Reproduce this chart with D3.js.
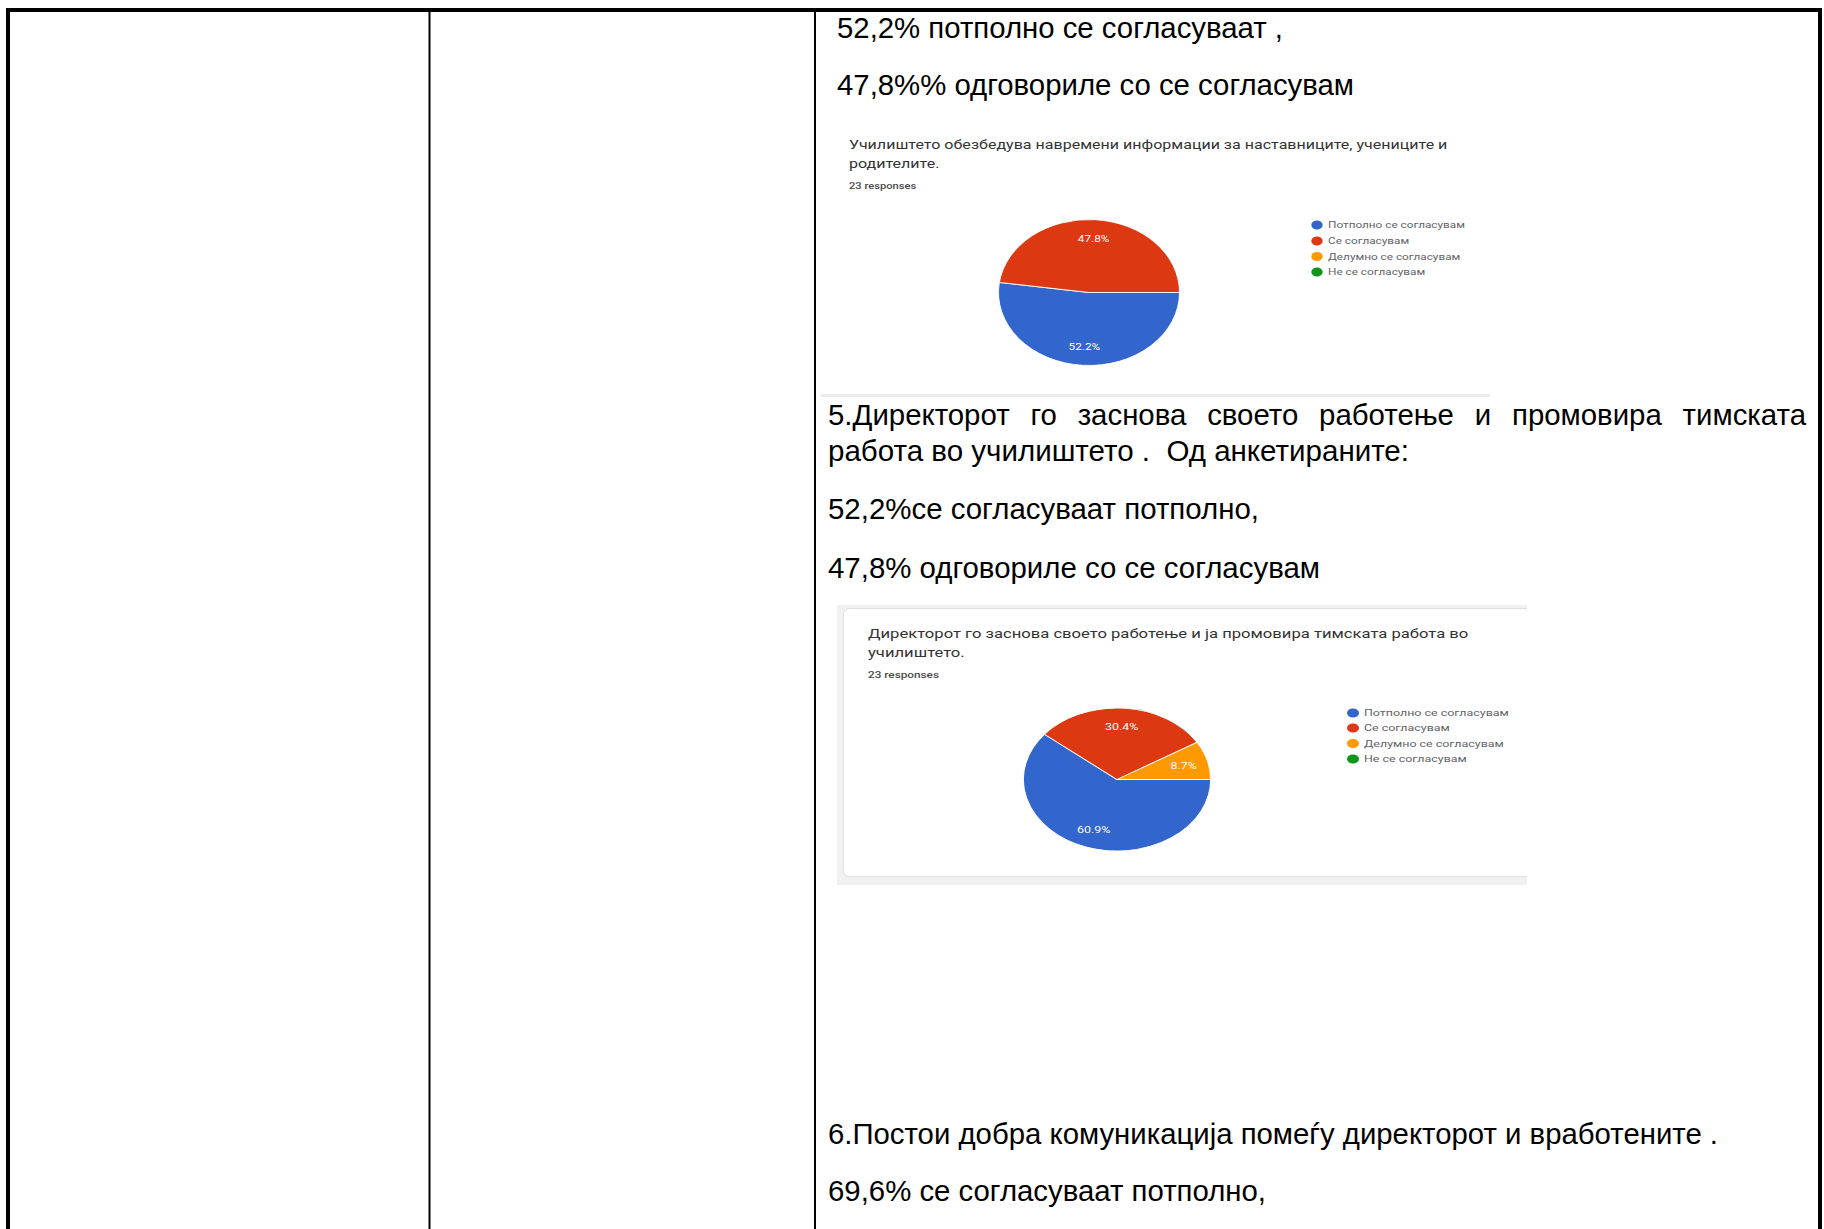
<!DOCTYPE html>
<html>
<head>
<meta charset="utf-8">
<script src="https://cdn.jsdelivr.net/npm/d3@7"></script>
<style>
  html, body { margin: 0; padding: 0; background: #ffffff; }
  svg { display: block; }
  text { white-space: pre; }
</style>
</head>
<body>
<script>
// ---------------- DATA ----------------
const categories = ["Потполно се согласувам", "Се согласувам", "Делумно се согласувам", "Не се согласувам"];
const sliceColors = ["#3366cc", "#dc3912", "#ff9900", "#109618"];
const chart1Values = [52.2, 47.8, 0, 0];
const chart2Values = [60.9, 30.4, 8.7, 0];
const chart1Title = ["Училиштето обезбедува навремени информации за наставниците, учениците и", "родителите."];
const chart2Title = ["Директорот го заснова своето работење и ја промовира тимската работа во", "училиштето."];
const responsesText = "23 responses";
const docLines = [
  "52,2% потполно се согласуваат ,",
  "47,8%% одговориле со се согласувам",
  "5.Директорот го заснова своето работење и промовира тимската",
  "работа во училиштето .  Од анкетираните:",
  "52,2%се согласуваат потполно,",
  "47,8% одговориле со се согласувам",
  "6.Постои добра комуникација помеѓу директорот и вработените .",
  "69,6% се согласуваат потполно,"
];

// ---------------- LAYOUT ----------------
const W = 1824, H = 1229;
const docLayout = [
  {x: 837, y: 38,   w: 446},
  {x: 837, y: 95,   w: 517},
  {x: 828, y: 425,  w: 978, justify: true},
  {x: 828, y: 461,  w: 581},
  {x: 828, y: 519,  w: 431},
  {x: 828, y: 578,  w: 492},
  {x: 828, y: 1144, w: 890},
  {x: 828, y: 1201, w: 438}
];
const chart1Cfg = {cx: 1089, cy: 292.5, r: 73, sx: 1.24,
  titleX: 849, titleY: [149, 168], respY: 189, titleW: 599,
  legX: 1317, legY: [225, 241, 256.5, 272]};
const chart2Cfg = {cx: 1117, cy: 779.5, r: 71.5, sx: 1.31,
  titleX: 868, titleY: [638, 657], respY: 678, titleW: 601,
  legX: 1353, legY: [713, 728, 743.5, 759]};

const svg = d3.select("body").append("svg").attr("width", W).attr("height", H);

// ---------------- TABLE ----------------
const tbl = svg.append("g");
tbl.append("rect").attr("x", 6).attr("y", 8).attr("width", 1816).attr("height", 4).attr("fill", "#000");
tbl.append("rect").attr("x", 6).attr("y", 8).attr("width", 4).attr("height", H).attr("fill", "#000");
tbl.append("rect").attr("x", 1818).attr("y", 8).attr("width", 4).attr("height", H).attr("fill", "#000");
tbl.append("rect").attr("x", 428.5).attr("y", 8).attr("width", 2).attr("height", H).attr("fill", "#000");
tbl.append("rect").attr("x", 814).attr("y", 8).attr("width", 2).attr("height", H).attr("fill", "#000");

// chart 1 separator line
svg.append("rect").attr("x", 821).attr("y", 394).attr("width", 669).attr("height", 3).attr("fill", "#ececec");

// chart 2 card
svg.append("rect").attr("x", 837).attr("y", 605).attr("width", 690).attr("height", 280).attr("fill", "#f1f1f1");
svg.append("rect").attr("x", 843.5).attr("y", 608.5).attr("width", 700).attr("height", 268)
  .attr("rx", 6).attr("fill", "#fff").attr("stroke", "#e0e0e0").attr("stroke-width", 1);
// clip the card at the screenshot's right edge
svg.append("rect").attr("x", 1527).attr("y", 600).attr("width", 290).attr("height", 290).attr("fill", "#fff");

// ---------------- DOCUMENT TEXT ----------------
const docFont = "'Liberation Sans', Arial, sans-serif";
const docG = svg.append("g").attr("font-family", docFont).attr("fill", "#000");
const probe = docG.append("text").attr("font-size", 24);
let ratioSum = 0, ratioN = 0;
docLines.forEach((t, i) => {
  if (docLayout[i].justify) return;
  probe.text(t);
  ratioSum += docLayout[i].w / probe.node().getComputedTextLength();
  ratioN++;
});
probe.remove();
const docFs = 24 * ratioSum / ratioN;
docLines.forEach((t, i) => {
  const L = docLayout[i];
  if (L.justify) {
    const words = t.split(" ");
    const tmp = docG.append("text").attr("font-size", docFs);
    const widths = words.map(w => { tmp.text(w); return tmp.node().getComputedTextLength(); });
    tmp.remove();
    const gap = (L.w - d3.sum(widths)) / (words.length - 1);
    let x = L.x;
    words.forEach((w, k) => {
      docG.append("text").attr("font-size", docFs).attr("x", x).attr("y", L.y).text(w);
      x += widths[k] + gap;
    });
  } else {
    docG.append("text").attr("font-size", docFs).attr("x", L.x).attr("y", L.y)
      .attr("textLength", L.w).attr("lengthAdjust", "spacingAndGlyphs").text(t);
  }
});

// ---------------- PIE CHARTS ----------------
const chartFont = "Roboto, 'Noto Sans', sans-serif";
function drawChart(values, titleLines, cfg) {
  const root = svg.append("g").attr("font-family", chartFont);

  const probeT = root.append("text").attr("font-size", 14).text(titleLines[0]);
  const nat = probeT.node().getComputedTextLength();
  probeT.remove();
  const titleFs = 14 * cfg.titleW / (nat * cfg.sx);
  titleLines.forEach((t, i) => {
    root.append("text")
      .attr("transform", `translate(${cfg.titleX},${cfg.titleY[i]}) scale(${cfg.sx},1)`)
      .attr("font-size", titleFs).attr("fill", "#333333").text(t);
  });
  root.append("text")
    .attr("transform", `translate(${cfg.titleX},${cfg.respY}) scale(${cfg.sx},1)`)
    .attr("font-size", 9).attr("font-weight", 500).attr("fill", "#4a4a4a").text(responsesText);

  // pie
  const pie = d3.pie().sort(null).value(d => d)
    .startAngle(Math.PI / 2).endAngle(Math.PI / 2 + 2 * Math.PI);
  const arcs = pie(values).map((a, i) => Object.assign(a, {cat: i}));
  const arc = d3.arc().innerRadius(0).outerRadius(cfg.r);
  const labelArc = d3.arc().innerRadius(cfg.r * 0.74).outerRadius(cfg.r * 0.74);
  const pg = root.append("g").attr("transform", `translate(${cfg.cx},${cfg.cy}) scale(${cfg.sx},1)`);
  pg.selectAll("path").data(arcs.filter(a => a.value > 0)).join("path")
    .attr("d", arc).attr("fill", d => sliceColors[d.cat])
    .attr("stroke", "#ffffff").attr("stroke-width", 0.8);
  pg.selectAll("text").data(arcs.filter(a => a.value > 0)).join("text")
    .attr("transform", d => `translate(${labelArc.centroid(d)})`)
    .attr("text-anchor", "middle").attr("dy", "0.35em")
    .attr("font-size", 9.5).attr("fill", "#ffffff")
    .text(d => d3.format(".1f")(d.value) + "%");

  // legend
  const lg = root.append("g").attr("transform", `translate(${cfg.legX},0) scale(${cfg.sx},1)`);
  const rows = lg.selectAll("g").data(categories).join("g")
    .attr("transform", (d, i) => `translate(0,${cfg.legY[i]})`);
  rows.append("circle").attr("r", 4.6).attr("fill", (d, i) => sliceColors[i]);
  rows.append("text").attr("x", 11 / cfg.sx).attr("dy", "0.35em")
    .attr("font-size", 9.5).attr("fill", "#5f6368").text(d => d);
}
drawChart(chart1Values, chart1Title, chart1Cfg);
drawChart(chart2Values, chart2Title, chart2Cfg);
</script>
</body>
</html>
